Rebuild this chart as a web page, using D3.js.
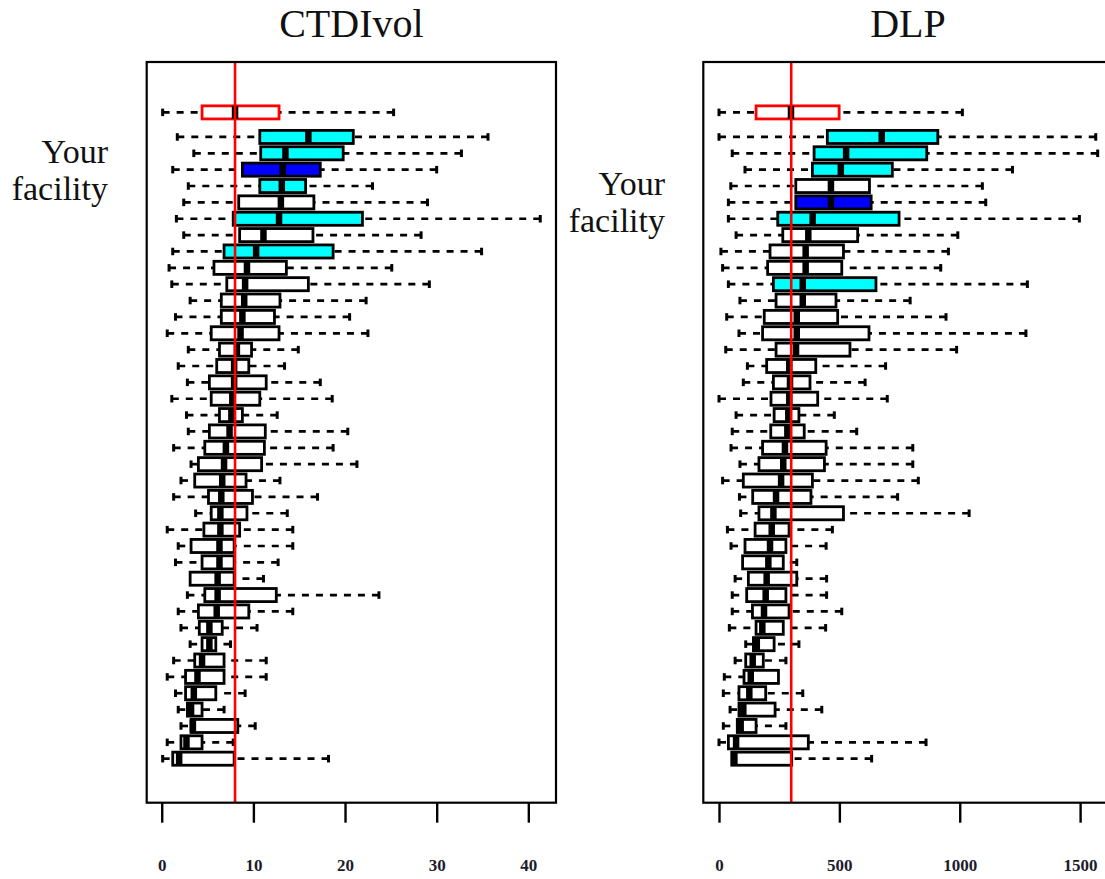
<!DOCTYPE html>
<html>
<head>
<meta charset="utf-8">
<script src="https://cdn.jsdelivr.net/npm/d3@7"></script>
<style>
  body { margin: 0; background: #fff; }
  svg { display: block; }
  .tick text { font-family: "Liberation Serif", serif; font-weight: bold; font-size: 17px; fill: #1c1c2a; }
  .title { font-family: "Liberation Serif", serif; font-size: 40px; fill: #111; }
  .label { font-family: "Liberation Serif", serif; font-size: 34px; fill: #111; }
</style>
</head>
<body>
<svg id="chart" width="1105" height="879"></svg>
<script>
// #region Data (rows listed top to bottom)
// CTDIvol: whisker low, lower quartile, median, upper quartile, whisker high
const ctdiLo  = [1.7, 3.5, 1.2, 2.9, 2.4, 1.6, 2.4, 1.2, 0.8, 1.1, 3.1, 1.5, 0.6, 2.9, 1.8, 2.8, 1.1, 2.7, 2.9, 1.3, 3.2, 2.1, 1.3, 3.7, 0.6, 1.8, 1.5, 3.1, 2.8, 1.8, 2.1, 3.1, 1.3, 0.6, 1.5, 1.8, 2.1, 0.6, 0.1];
const ctdiQ1  = [10.7, 10.8, 8.8, 10.7, 8.4, 7.8, 8.5, 6.8, 5.7, 7.1, 6.5, 6.5, 5.4, 6.3, 6.0, 5.2, 5.4, 6.3, 5.2, 4.7, 4.0, 3.6, 5.1, 5.4, 4.6, 3.2, 4.4, 3.1, 4.7, 4.0, 4.1, 4.4, 3.6, 2.6, 2.6, 2.8, 3.2, 2.1, 1.2];
const ctdiMed = [16.0, 13.5, 13.2, 13.1, 13.0, 12.8, 11.1, 10.3, 9.3, 9.1, 9.0, 8.8, 8.6, 8.2, 7.9, 7.9, 7.7, 7.6, 7.4, 7.0, 6.8, 6.6, 6.5, 6.4, 6.4, 6.3, 6.3, 6.1, 6.1, 6.0, 5.2, 5.2, 4.4, 3.9, 3.5, 3.2, 3.4, 2.7, 1.9];
const ctdiQ3  = [20.9, 19.8, 17.3, 15.7, 16.6, 21.9, 16.5, 18.7, 13.6, 16.0, 12.9, 12.3, 12.8, 9.8, 9.5, 11.4, 10.7, 8.8, 11.3, 11.2, 10.9, 9.2, 9.9, 9.3, 8.5, 7.9, 7.9, 7.9, 12.5, 9.5, 6.6, 5.9, 6.8, 6.8, 5.9, 4.4, 8.3, 4.4, 7.9];
const ctdiHi  = [35.6, 32.7, 30.0, 23.0, 29.0, 41.3, 28.3, 34.9, 25.1, 29.2, 22.3, 20.5, 22.5, 14.9, 13.4, 17.3, 18.6, 12.6, 20.3, 18.7, 21.3, 12.9, 17.0, 13.7, 14.3, 14.3, 12.7, 11.1, 23.7, 14.3, 10.4, 7.5, 11.4, 11.4, 9.1, 6.8, 10.2, 7.8, 18.2];
const ctdiFacility = [0.1, 4.4, 8.0, 12.8, 25.3];
const ctdiCyan = [0, 1, 3, 5, 7];
const ctdiBlue = [2];
const ctdiRef = 8;
const ctdiTicks = [0, 10, 20, 30, 40];

// DLP
const dlpLo  = [0, 55, 108, 49, 39, 39, 71, 8, 15, 39, 87, 32, 83, 28, 118, 101, 0, 71, 55, 50, 87, 15, 85, 90, 35, 50, 98, 67, 55, 55, 43, 111, 67, 22, 18, 46, 18, 0, 53];
const dlpQ1  = [450, 395, 388, 319, 319, 244, 265, 212, 202, 226, 237, 188, 181, 237, 198, 226, 216, 229, 215, 181, 166, 101, 140, 166, 150, 108, 98, 122, 115, 139, 154, 143, 111, 104, 83, 83, 76, 39, 53];
const dlpMed = [676, 528, 506, 465, 465, 389, 371, 360, 360, 348, 348, 323, 323, 320, 292, 295, 292, 288, 284, 274, 267, 258, 237, 226, 219, 212, 205, 198, 194, 187, 180, 157, 140, 132, 126, 101, 90, 71, 64];
const dlpQ3  = [909, 863, 720, 625, 632, 748, 576, 517, 510, 652, 486, 493, 623, 544, 402, 378, 410, 332, 354, 445, 438, 388, 382, 517, 291, 278, 267, 323, 278, 291, 267, 229, 184, 247, 194, 233, 154, 371, 302];
const dlpHi  = [1565, 1573, 1219, 1094, 1108, 1497, 992, 953, 921, 1281, 794, 943, 1275, 987, 692, 607, 699, 479, 572, 805, 805, 828, 742, 1039, 471, 445, 323, 447, 447, 510, 443, 332, 278, 247, 348, 427, 278, 860, 634];
const dlpFacility = [0, 154, 299, 499, 1011];
const dlpCyan = [0, 1, 2, 5, 9];
const dlpBlue = [4];
const dlpRef = 300;
const dlpTicks = [0, 500, 1000, 1500];
// #endregion

const svg = d3.select("#chart");
const frameTop = 62;
const frameBottom = 802.7;
const nRows = ctdiLo.length;
const facilityPos = nRows + 1.5;

const y = d3.scaleLinear().domain([-1.69, 43.58]).range([frameBottom, frameTop]);
const unit = y(0) - y(1);

function drawPanel(p) {
  const x = d3.scaleLinear().domain(p.domain).range([p.left, p.right]);
  const g = svg.append("g");

  const rows = p.lo.map((lo, i) => ({
    lo, q1: p.q1[i], med: p.med[i], q3: p.q3[i], hi: p.hi[i],
    pos: nRows - i,
    fill: p.blue.includes(i) ? "#0000ff" : p.cyan.includes(i) ? "#00ffff" : "#ffffff",
    stroke: "#000",
  }));
  const f = p.facility;
  rows.unshift({ lo: f[0], q1: f[1], med: f[2], q3: f[3], hi: f[4], pos: facilityPos, fill: "#fff", stroke: "#ff0000" });

  const bw = unit * 0.4;
  const sw = unit * 0.23;
  const box = g.selectAll("g.box").data(rows).enter().append("g").attr("class", "box");

  // whiskers (dashed, drawn from staple toward box)
  box.append("line")
    .attr("x1", (d) => x(d.lo)).attr("x2", (d) => x(d.q1))
    .attr("y1", (d) => y(d.pos)).attr("y2", (d) => y(d.pos))
    .attr("stroke", "#000").attr("stroke-width", 2.7).attr("stroke-dasharray", "7,7");
  box.append("line")
    .attr("x1", (d) => x(d.hi)).attr("x2", (d) => x(d.q3))
    .attr("y1", (d) => y(d.pos)).attr("y2", (d) => y(d.pos))
    .attr("stroke", "#000").attr("stroke-width", 2.7).attr("stroke-dasharray", "7,7");
  // staples
  ["lo", "hi"].forEach((k) => {
    box.filter((d) => d[k] !== (k === "lo" ? d.q1 : d.q3))
      .append("line")
      .attr("x1", (d) => x(d[k])).attr("x2", (d) => x(d[k]))
      .attr("y1", (d) => y(d.pos) - sw).attr("y2", (d) => y(d.pos) + sw)
      .attr("stroke", "#000").attr("stroke-width", 3);
  });
  // boxes
  box.append("rect")
    .attr("x", (d) => x(d.q1))
    .attr("y", (d) => y(d.pos) - bw)
    .attr("width", (d) => x(d.q3) - x(d.q1))
    .attr("height", bw * 2)
    .attr("fill", (d) => d.fill)
    .attr("stroke", (d) => d.stroke)
    .attr("stroke-width", 2.8);
  // medians
  box.append("line")
    .attr("x1", (d) => x(d.med)).attr("x2", (d) => x(d.med))
    .attr("y1", (d) => y(d.pos) - bw).attr("y2", (d) => y(d.pos) + bw)
    .attr("stroke", "#000").attr("stroke-width", 6.5);

  // reference line
  g.append("line")
    .attr("x1", x(p.ref)).attr("x2", x(p.ref))
    .attr("y1", frameTop).attr("y2", frameBottom)
    .attr("stroke", "#ff0000").attr("stroke-width", 2.6);

  // frame
  g.append("rect")
    .attr("x", p.left).attr("y", frameTop)
    .attr("width", p.right - p.left).attr("height", frameBottom - frameTop)
    .attr("fill", "none").attr("stroke", "#000").attr("stroke-width", 2.2);

  // axis
  const axis = g.append("g")
    .attr("transform", `translate(0,${frameBottom})`)
    .call(d3.axisBottom(x).tickValues(p.ticks).tickFormat(d3.format("d"))
      .tickSizeInner(20).tickSizeOuter(0).tickPadding(36));
  axis.select(".domain").remove();
  axis.selectAll(".tick line").attr("stroke-width", 2.4);
  axis.attr("font-family", null).attr("font-size", null);

  // title
  g.append("text").attr("class", "title")
    .attr("x", (p.left + p.right) / 2).attr("y", 37)
    .attr("text-anchor", "middle").text(p.title);

  // facility label, centred on the highlighted row
  const ly = y(nRows - p.blue[0]);
  const lab = g.append("text").attr("class", "label").attr("text-anchor", "end");
  lab.append("tspan").attr("x", p.labelX).attr("y", ly - 7).text("Your");
  lab.append("tspan").attr("x", p.labelX).attr("y", ly + 30).text("facility");
}

drawPanel({
  title: "CTDIvol", left: 146.7, right: 556, domain: [-1.64, 43.02], ticks: ctdiTicks,
  lo: ctdiLo, q1: ctdiQ1, med: ctdiMed, q3: ctdiQ3, hi: ctdiHi,
  facility: ctdiFacility, cyan: ctdiCyan, blue: ctdiBlue, ref: ctdiRef, labelX: 108,
});
drawPanel({
  title: "DLP", left: 703.3, right: 1112.6, domain: [-65.2, 1635], ticks: dlpTicks,
  lo: dlpLo, q1: dlpQ1, med: dlpMed, q3: dlpQ3, hi: dlpHi,
  facility: dlpFacility, cyan: dlpCyan, blue: dlpBlue, ref: dlpRef, labelX: 665,
});
</script>
</body>
</html>
